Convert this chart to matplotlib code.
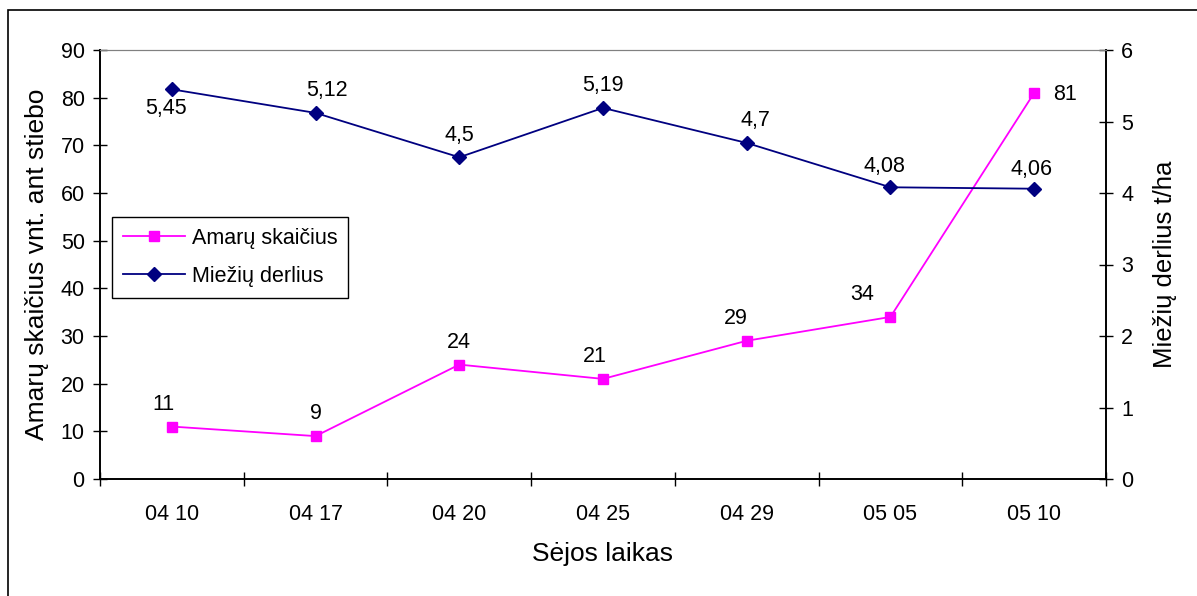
import matplotlib
matplotlib.use("Agg")
import matplotlib.pyplot as plt
from matplotlib.patches import Rectangle

plt.rcParams['font.family'] = ['Liberation Sans', 'DejaVu Sans']

categories = ["04 10", "04 17", "04 20", "04 25", "04 29", "05 05", "05 10"]
amaru = [11, 9, 24, 21, 29, 34, 81]
miezių = [5.45, 5.12, 4.5, 5.19, 4.7, 4.08, 4.06]
miezių_labels = ["5,45", "5,12", "4,5", "5,19", "4,7", "4,08", "4,06"]

W, H = 1197, 596
fig = plt.figure(figsize=(W / 100, H / 100), dpi=100)
fig.patches.append(Rectangle((8 / W, -0.1), 1.2, 1 - 10 / H + 0.1, transform=fig.transFigure,
                             fill=False, edgecolor='black', linewidth=1.2))

ax = fig.add_axes([100 / W, 1 - 479 / H, (1106 - 100) / W, (479 - 50) / H])
ax2 = ax.twinx()

x = list(range(len(categories)))
l1, = ax.plot(x, amaru, color='#FF00FF', marker='s', markersize=7, linewidth=1.3,
              label='Amarų skaičius', zorder=3)
l2, = ax2.plot(x, miezių, color='#000080', marker='D', markersize=7, linewidth=1.3,
               label='Miežių derlius', zorder=3)

ax.set_xlim(-0.5, len(categories) - 0.5)
ax.set_ylim(0, 90)
ax2.set_ylim(0, 6)
ax.set_yticks(range(0, 91, 10))
ax2.set_yticks(range(0, 7))
ax.set_xticks(x)
ax.set_xticklabels(categories)
ax.set_xticks([i - 0.5 for i in range(len(categories) + 1)], minor=True)
ax.tick_params(axis='x', which='major', length=0, pad=18, labelsize=15.5)
ax.tick_params(axis='x', which='minor', length=10, direction='inout', width=1)
ax.tick_params(axis='y', length=10, direction='inout', width=1, labelsize=15.5, pad=6)
ax2.tick_params(axis='y', length=10, direction='inout', width=1, labelsize=15.5, pad=6)

for a in (ax, ax2):
    a.spines['top'].set_color('#808080')
    for s in ('left', 'right', 'bottom'):
        a.spines[s].set_color('#000000')
        a.spines[s].set_linewidth(1.2)

ax.set_xlabel('Sėjos laikas', fontsize=19, labelpad=12)
ax.set_ylabel('Amarų skaičius vnt. ant stiebo', fontsize=19, labelpad=8)
ax2.set_ylabel('Miežių derlius t/ha', fontsize=18.5, labelpad=14)

amaru_offsets = [(-6, 16), (0, 16), (0, 16), (-6, 16), (-8, 16), (-20, 16), (22, -1)]
for i, (v, off) in enumerate(zip(amaru, amaru_offsets)):
    ax.annotate(str(v), (i, v), xytext=off, textcoords='offset points',
                ha='center', va='center', fontsize=15.5)

miez_offsets = [(-4, -14), (8, 16), (0, 16), (0, 16), (6, 16), (-4, 15), (-2, 14)]
for i, (v, lab, off) in enumerate(zip(miezių, miezių_labels, miez_offsets)):
    ax2.annotate(lab, (i, v), xytext=off, textcoords='offset points',
                 ha='center', va='center', fontsize=15.5)

leg = ax.legend([l1, l2], ['Amarų skaičius', 'Miežių derlius'],
                loc='upper left', bbox_to_anchor=(112 / W, 1 - 217 / H),
                bbox_transform=fig.transFigure, fontsize=15.5, frameon=True,
                fancybox=False, edgecolor='black', framealpha=1,
                handlelength=2.9, handletextpad=0.3, borderpad=0.5,
                labelspacing=0.8, borderaxespad=0)
leg.get_frame().set_linewidth(1)

fig.savefig('out.png', dpi=100)
